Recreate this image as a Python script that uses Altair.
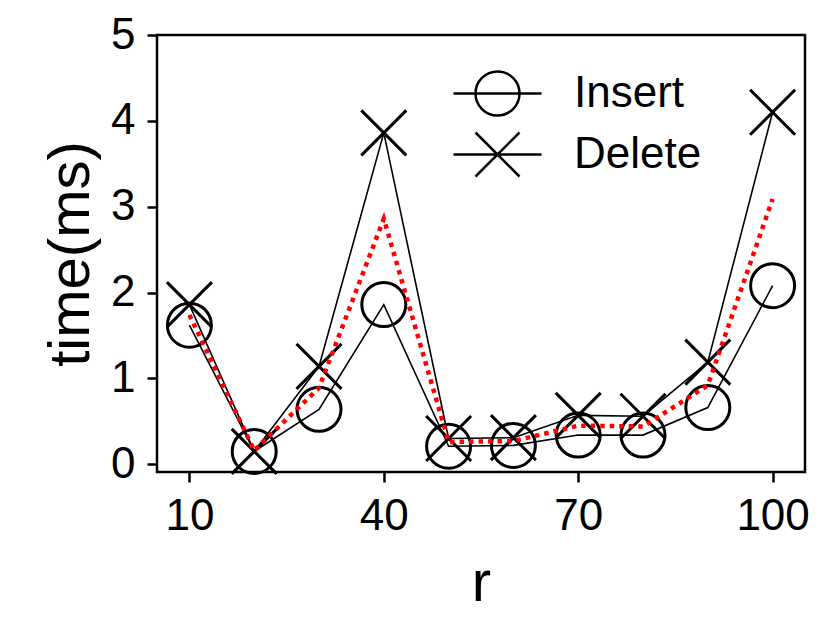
import altair as alt
import pandas as pd

r_values = [10, 20, 30, 40, 50, 60, 70, 80, 90, 100]
insert_ms = [1.62, 0.15, 0.64, 1.86, 0.21, 0.22, 0.34, 0.34, 0.66, 2.08]
delete_ms = [1.86, 0.15, 1.14, 3.86, 0.30, 0.31, 0.57, 0.56, 1.19, 4.10]
mean_ms = [1.74, 0.16, 0.89, 2.86, 0.26, 0.27, 0.45, 0.44, 0.92, 3.09]
series_names = ["Insert", "Delete"]
x_ticks = [10, 40, 70, 100]
y_ticks = [0, 1, 2, 3, 4, 5]

FONT = "Liberation Sans"

df = pd.DataFrame({
    "r": r_values * 2,
    "time": insert_ms + delete_ms,
    "series": ["Insert"] * len(r_values) + ["Delete"] * len(r_values),
})
df_mean = pd.DataFrame({"r": r_values, "time": mean_ms})

x = alt.X("r:Q", scale=alt.Scale(domain=[5, 105], nice=False, zero=False),
          axis=alt.Axis(values=x_ticks, title="r"))
y = alt.Y("time:Q", scale=alt.Scale(domain=[-0.09, 5], nice=False, zero=False),
          axis=alt.Axis(values=y_ticks, title="time(ms)"))

X_PATH = "M-1,-1L1,1M-1,1L1,-1"
LEG_CIRCLE = "M-2,0L2,0M1,0A1,1,0,1,1,-1,0A1,1,0,1,1,1,0"
LEG_X = "M-2,0L2,0M-1,-1L1,1M-1,1L1,-1"

lines = alt.Chart(df).mark_line(color="black", strokeWidth=1.6).encode(
    x=x, y=y, detail="series:N")

circles = alt.Chart(df).transform_filter("datum.series == 'Insert'").mark_point(
    shape="circle", size=1936, color="black", strokeWidth=3, filled=False, opacity=1
).encode(x=x, y=y)

crosses = alt.Chart(df).transform_filter("datum.series == 'Delete'").mark_point(
    shape=X_PATH, size=2025, color="black", strokeWidth=3, filled=False, opacity=1
).encode(x=x, y=y)

mean_line = alt.Chart(df_mean).mark_line(
    color="#ff0000", strokeWidth=4.5, strokeDash=[4.5, 5]
).encode(x=x, y=y)

legend_layer = alt.Chart(df).transform_filter("false").mark_point(
    filled=False, color="black", strokeWidth=2.5
).encode(
    x=x, y=y,
    shape=alt.Shape("series:N",
                    scale=alt.Scale(domain=series_names, range=[LEG_CIRCLE, LEG_X]),
                    legend=alt.Legend(title=None, orient="none", legendX=317, legendY=35,
                                      symbolSize=1936, labelFontSize=44, labelFont=FONT,
                                      labelColor="black", labelOffset=53, rowPadding=6,
                                      symbolStrokeWidth=2.5, symbolStrokeColor="black",
                                      symbolFillColor="transparent", symbolOpacity=1,
                                      padding=0)),
)

chart = alt.layer(lines, circles, crosses, mean_line, legend_layer).properties(
    width=648, height=437,
    autosize=alt.AutoSizeParams(type="none"),
    padding={"left": 149, "top": 27, "right": 19, "bottom": 144},
).configure_view(
    stroke="black", strokeWidth=2.5
).configure_axis(
    domain=False, grid=False,
    labelFont=FONT, titleFont=FONT,
    labelFontSize=44, titleFontSize=58,
    labelColor="black", titleColor="black", titleFontWeight="normal",
    tickColor="black", tickWidth=2.5, tickSize=10,
).configure_axisY(
    labelPadding=12, titlePadding=10,
).configure_axisX(
    labelPadding=12, titlePadding=16,
)

chart.save("out.html", embed_options={"renderer": "svg", "actions": False})
